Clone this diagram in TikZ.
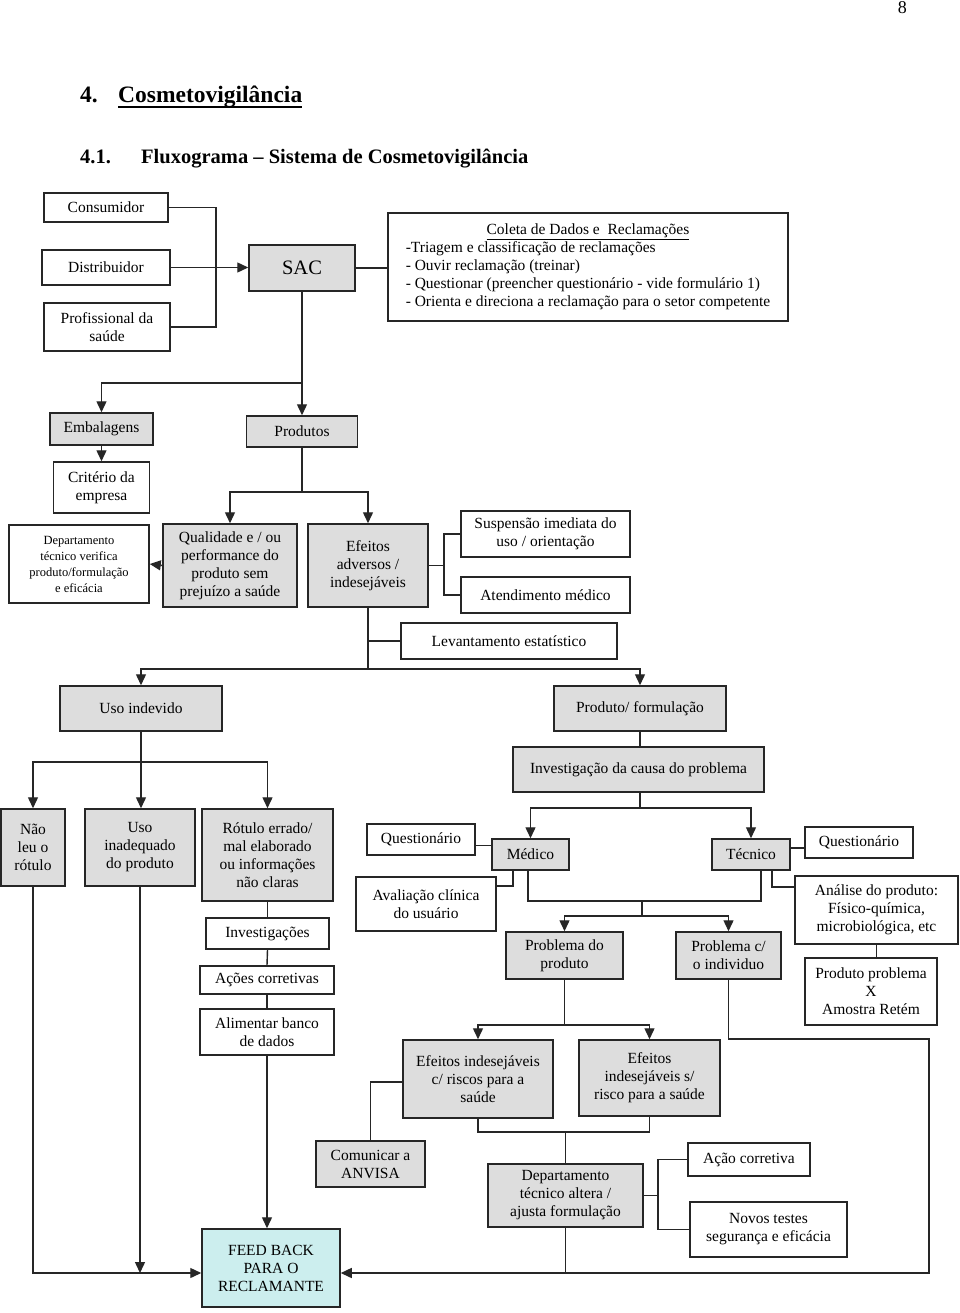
\documentclass[tikz,border=0pt]{standalone}
\usepackage{fontspec}
\setmainfont{Liberation Serif}
\usetikzlibrary{arrows.meta}
\definecolor{boxgray}{RGB}{221,221,221}
\definecolor{feedcyan}{RGB}{204,238,238}
\begin{document}
\begin{tikzpicture}[x=1pt,y=-1pt,
	box/.style={draw=black!85, line width=1.5pt, fill=white, align=center, inner sep=1pt, font=\fontsize{15.5}{18}\selectfont},
	grbox/.style={box, fill=boxgray},
	sz/.style 2 args={minimum width=#1, minimum height=#2},
	link/.style={draw=black!85, line width=1.4pt},
	arr/.style={link, -{Triangle[length=11pt,width=10pt]}},
	head/.style={anchor=base west, inner sep=0pt}]
	\path[fill=white] (0,0) rectangle (960,1313);
	\node[anchor=base east, inner sep=0pt, font=\fontsize{18}{20}\selectfont] (pagenum) at (907,14) {8};
	\node[head, font=\bfseries\fontsize{23.5}{28}\selectfont] (h1num) at (80,103) {4.};
	\node[head, font=\bfseries\fontsize{23.5}{28}\selectfont] (h1) at (118,103) {Cosmetovigilância};
	\draw[line width=1.6pt] ([yshift=-4pt]h1.base west) -- ([yshift=-4pt]h1.base east);
	\node[head, font=\bfseries\fontsize{20.5}{24}\selectfont] (h2num) at (80,164) {4.1.};
	\node[head, font=\bfseries\fontsize{20.5}{24}\selectfont] (h2) at (141,164) {Fluxograma – Sistema de Cosmetovigilância};
	\node[box, sz={124pt}{29pt}] (cons) at (106,207.5) {Consumidor};
	\node[box, sz={128pt}{35pt}] (dist) at (106,267.5) {Distribuidor};
	\node[box, sz={126pt}{48pt}] (prof) at (107,327) {Profissional da\\saúde};
	\node[grbox, sz={106pt}{46pt}, font=\fontsize{20.5}{24}\selectfont] (sac) at (302,268) {SAC};
	\node[box, sz={400pt}{108pt}] (coleta) at (588,267) {\begin{tabular}{@{}l@{}}\multicolumn{1}{@{}c@{}}{\underline{Coleta de Dados e\ \ Reclamações}}\\-Triagem e classificação de reclamações\\- Ouvir reclamação (treinar)\\- Questionar (preencher questionário - vide formulário 1)\\- Orienta e direciona a reclamação para o setor competente\end{tabular}};
	\node[grbox, sz={103pt}{32pt}] (emb) at (101.5,429) {Embalagens};
	\node[grbox, sz={111pt}{31pt}] (prod) at (302,431.5) {Produtos};
	\node[box, sz={96pt}{51pt}] (crit) at (101.5,487.5) {Critério da\\empresa};
	\node[box, sz={140pt}{78pt}, font=\fontsize{12.5}{16}\selectfont] (dept1) at (79,564) {Departamento\\técnico verifica\\produto/formulação\\e eficácia};
	\node[grbox, sz={134pt}{83pt}] (qual) at (230,565.5) {Qualidade e / ou\\performance do\\produto sem\\prejuízo a saúde};
	\node[grbox, sz={120pt}{83pt}] (efeit) at (368,565.5) {Efeitos\\adversos /\\indesejáveis};
	\node[box, sz={169pt}{46pt}] (susp) at (545.5,534) {Suspensão imediata do\\uso / orientação};
	\node[box, sz={169pt}{36pt}] (atend) at (545.5,595) {Atendimento médico};
	\node[box, sz={216pt}{36pt}] (levant) at (509,641) {Levantamento estatístico};
	\node[grbox, sz={162pt}{45pt}] (usoind) at (141,708.5) {Uso indevido};
	\node[grbox, sz={172pt}{45pt}] (prodform) at (640,708.5) {Produto/ formulação};
	\node[grbox, sz={251pt}{45pt}] (invest) at (638.5,769.5) {Investigação da causa do problema};
	\node[grbox, sz={64pt}{77pt}] (naoleu) at (33,847.5) {Não\\leu o\\rótulo};
	\node[grbox, sz={110pt}{77pt}] (usoinad) at (140,847.5) {Uso\\inadequado\\do produto};
	\node[grbox, sz={131pt}{92pt}] (rotulo) at (267.5,855) {Rótulo errado/\\mal elaborado\\ou informações\\não claras};
	\node[box, sz={123pt}{31pt}] (invs) at (267.5,933.5) {Investigações};
	\node[box, sz={134pt}{28pt}] (acoes) at (267,980) {Ações corretivas};
	\node[box, sz={134pt}{46pt}] (alim) at (267,1032) {Alimentar banco\\de dados};
	\node[box, sz={108pt}{31pt}] (quest1) at (421,839.5) {Questionário};
	\node[grbox, sz={77pt}{31pt}] (medico) at (530.5,854.5) {Médico};
	\node[box, sz={140pt}{54pt}] (aval) at (426,904) {Avaliação clínica\\do usuário};
	\node[grbox, sz={78pt}{31pt}] (tecnico) at (751,854.5) {Técnico};
	\node[box, sz={108pt}{31pt}] (quest2) at (859,842.5) {Questionário};
	\node[box, sz={163pt}{68pt}] (analise) at (876.5,910) {Análise do produto:\\Físico-química,\\microbiológica, etc};
	\node[box, sz={132pt}{67pt}] (prodprob) at (871,991.5) {Produto problema\\X\\Amostra Retém};
	\node[grbox, sz={117pt}{47pt}] (probprod) at (564.5,955.5) {Problema do\\produto};
	\node[grbox, sz={105pt}{47pt}] (probind) at (728.5,955.5) {Problema c/\\o individuo};
	\node[grbox, sz={150pt}{78pt}] (efc) at (478,1079) {Efeitos indesejáveis\\c/ riscos para a\\saúde};
	\node[grbox, sz={141pt}{76pt}] (efs) at (649.5,1078) {Efeitos\\indesejáveis s/\\risco para a saúde};
	\node[grbox, sz={109pt}{46pt}] (anvisa) at (370.5,1164) {Comunicar a\\ANVISA};
	\node[grbox, sz={155pt}{63pt}] (dept2) at (565.5,1195.5) {Departamento\\técnico altera /\\ajusta formulação};
	\node[box, sz={122pt}{33pt}] (acao) at (749,1159.5) {Ação corretiva};
	\node[box, sz={157pt}{55pt}] (novos) at (768.5,1229.5) {Novos testes\\segurança e eficácia};
	\node[box, sz={138pt}{78pt}, fill=feedcyan] (feed) at (271,1268) {FEED BACK\\PARA O\\RECLAMANTE};
	\coordinate (j1) at (216,327);
	\coordinate (j2) at (302,383);
	\coordinate (j3) at (302,492);
	\coordinate (j4) at (444,565.5);
	\coordinate (j5) at (368,669);
	\coordinate (j6) at (640,808);
	\coordinate (j7) at (140.5,762);
	\coordinate (j8) at (642,901);
	\coordinate (j9) at (642,916);
	\coordinate (j10) at (564.5,1025);
	\coordinate (j11) at (565.5,1132);
	\coordinate (j12) at (658,1195.5);
	\coordinate (j13) at (929,1039);
	\coordinate (j14) at (929,1273);
	\draw[link] (cons.east) -| (j1) -- (prof.east);
	\draw[arr] (dist.east) -- (dist.east -| sac.west);
	\draw[link] (sac.east) -- (sac.east -| coleta.west);
	\draw[arr] (sac.south) -- (prod.north);
	\draw[arr] (j2) -| (emb.north);
	\draw[arr] (emb.south) -- (crit.north);
	\draw[link] (prod.south) -- (j3);
	\draw[arr] (j3) -| (qual.north);
	\draw[arr] (j3) -| (efeit.north);
	\draw[arr] (qual.west) -- (dept1.east);
	\draw[link] (efeit.east) -- (j4);
	\draw[link] (susp.west) -| (j4) |- (atend.west);
	\draw[link] (efeit.south) -- (j5);
	\draw[link] (efeit.south |- levant.west) -- (levant.west);
	\draw[arr] (j5) -| (usoind.north);
	\draw[arr] (j5) -| (prodform.north);
	\draw[link] (prodform.south) -- (prodform.south |- invest.north);
	\draw[link] (prodform.south |- invest.south) -- (j6);
	\draw[arr] (j6) -| (medico.north);
	\draw[arr] (j6) -| (tecnico.north);
	\draw[arr] (usoind.south) -- (usoind.south |- usoinad.north);
	\draw[arr] (j7) -| (naoleu.north);
	\draw[arr] (j7) -| (rotulo.north);
	\draw[link] (rotulo.south) -- (invs.north);
	\draw[link] (invs.south) -- (acoes.north);
	\draw[link] (acoes.south) -- (alim.north);
	\draw[arr] (alim.south) -- (alim.south |- feed.north);
	\draw[arr] (naoleu.south) |- ([yshift=-5pt]feed.west);
	\draw[arr] (usoinad.south) -- (usoinad.south |- j14);
	\draw[link] ([yshift=-6pt]quest1.east) -- ([yshift=-6pt]quest1.east -| medico.west);
	\draw[link] ([xshift=-17.5pt]medico.south) |- ([yshift=18pt]aval.east);
	\draw[link] ([xshift=-2.5pt]medico.south) |- (j8) -| ([xshift=10pt]tecnico.south);
	\draw[link] (j8) -- (j9);
	\draw[arr] (j9) -| (probprod.north);
	\draw[arr] (j9) -| (probind.north);
	\draw[link] ([yshift=6.5pt]tecnico.east) -- ([yshift=6.5pt]tecnico.east -| quest2.west);
	\draw[link] ([xshift=21pt]tecnico.south) |- ([yshift=23pt]analise.west);
	\draw[link] (analise.south) -- (analise.south |- prodprob.north);
	\draw[link] (probprod.south) -- (j10);
	\draw[arr] (j10) -| (efc.north);
	\draw[arr] (j10) -| (efs.north);
	\draw[link] ([yshift=-3pt]efc.west) -| (anvisa.north);
	\draw[link] (efc.south) |- (j11) -| (efs.south);
	\draw[link] (j11) -- (dept2.north);
	\draw[link] (dept2.east) -- (j12);
	\draw[link] (acao.west) -| (j12) |- (novos.west);
	\draw[link] (dept2.south) -- (dept2.south |- j14);
	\draw[arr] (probind.south) |- (j13) -- (j14) -- ([yshift=-5pt]feed.east);
\end{tikzpicture}
\end{document}
